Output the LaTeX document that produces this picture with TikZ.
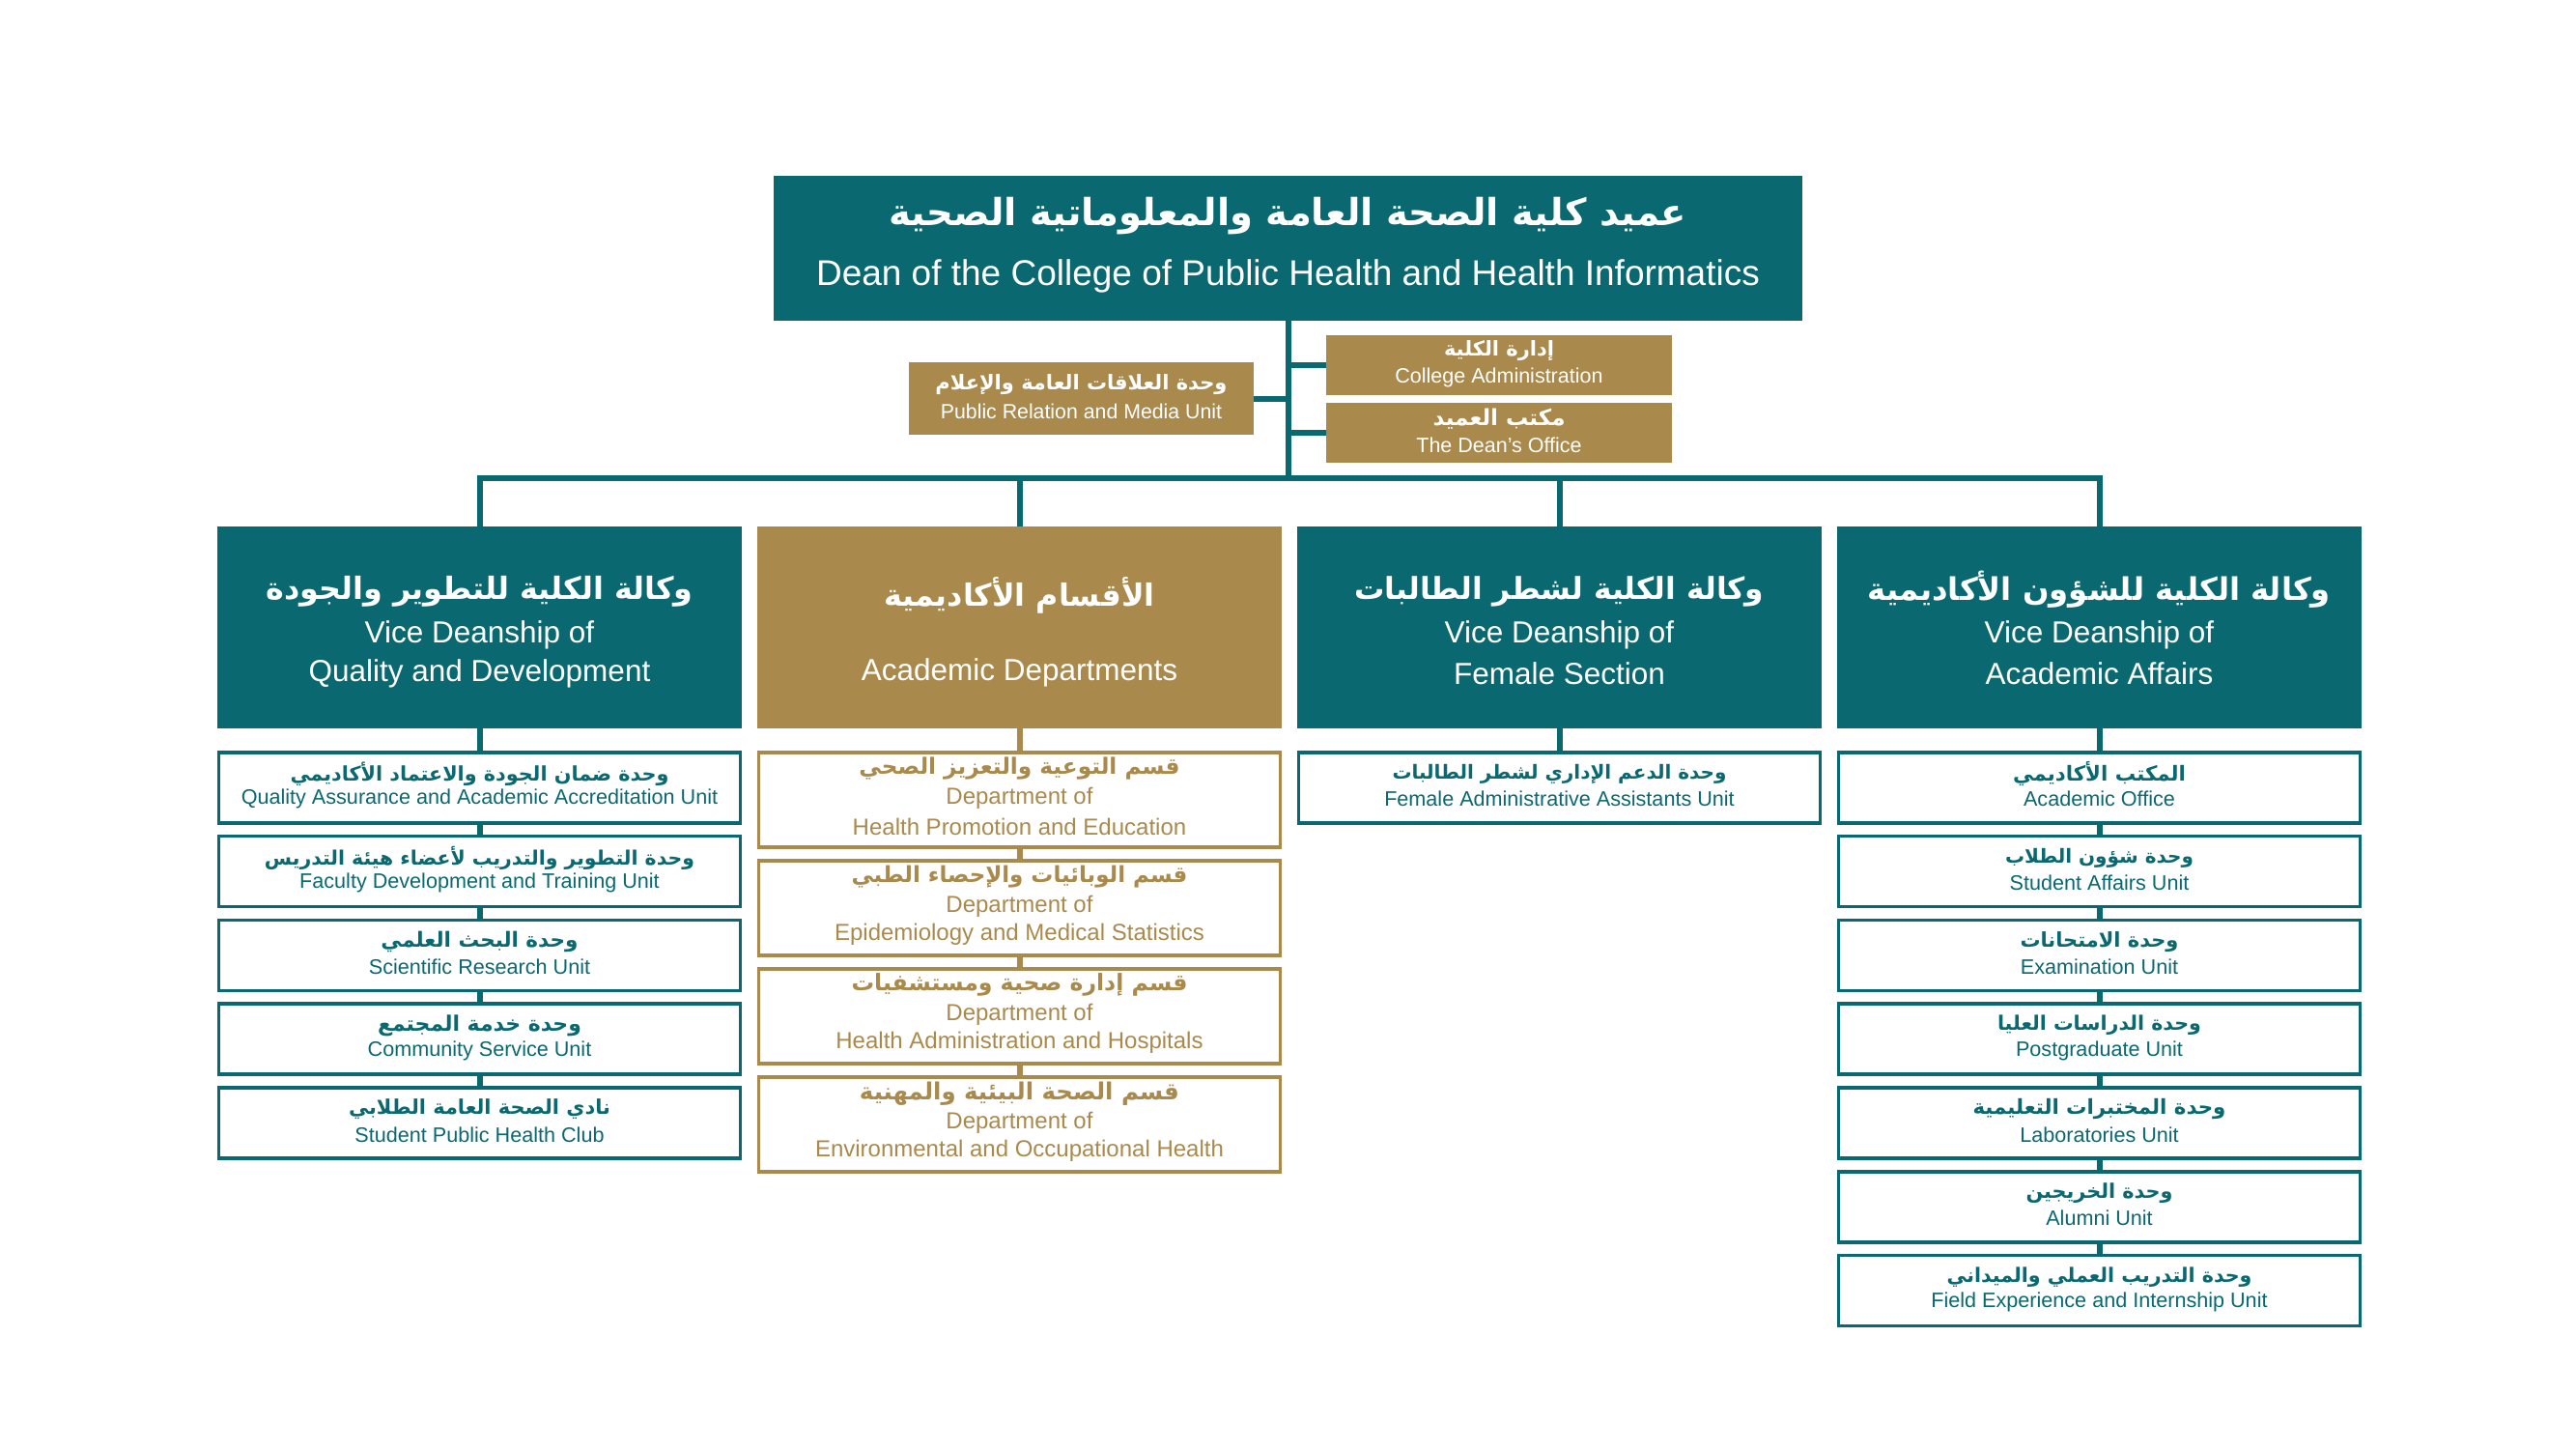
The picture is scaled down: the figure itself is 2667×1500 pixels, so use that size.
\documentclass[tikz,border=0pt]{standalone}
\usepackage{fontspec}
\usepackage{graphicx}
\setmainfont{Liberation Sans}
\newfontfamily\arabicfont[Script=Arabic]{DejaVu Sans}
\TeXXeTstate=1
\definecolor{tealc}{HTML}{0A6870}
\definecolor{goldc}{HTML}{A98A4C}
\newcommand\fsz[1]{\fontsize{#1}{#1}\selectfont}
\newcommand\ar[2]{\resizebox{#1pt}{!}{\arabicfont\bfseries #2}}
\tikzset{
  conn/.style={draw=tealc, line width=6pt},
  gconn/.style={draw=goldc, line width=6pt},
  tbox/.style={rectangle, fill=tealc, draw=none, inner sep=0pt, outer sep=0pt, anchor=north west},
  gbox/.style={rectangle, fill=goldc, draw=none, inner sep=0pt, outer sep=0pt, anchor=north west},
  tch/.style={rectangle, draw=tealc, line width=3.5pt, fill=white, inner sep=0pt, minimum width=540pt, minimum height=73pt},
  gch/.style={rectangle, draw=goldc, line width=3.5pt, fill=white, inner sep=0pt, minimum width=540pt, minimum height=98pt},
  lbl/.style={inner sep=0pt, outer sep=0pt},
}
\newcommand\tchild[6]{%
  \node[tch, anchor=north] (#1) at (#2,#3) {};
  \node[lbl, text=tealc] (#1-ar) at ([yshift=14pt]#1.center) {\ar{#4}{#5}};
  \node[lbl, text=tealc, font=\fsz{21.6}] (#1-en) at ([yshift=-12pt]#1.center) {#6};
}
\newcommand\gchild[6]{%
  \node[gch, anchor=north] (#1) at (#2,#3) {};
  \node[lbl, text=goldc] (#1-ar) at ([yshift=32pt]#1.center) {\ar{#4}{#5}};
  \node[lbl, text=goldc, font=\fsz{24}] (#1-dp) at ([yshift=1pt]#1.center) {Department of};
  \node[lbl, text=goldc, font=\fsz{24}] (#1-en) at ([yshift=-28pt]#1.center) {#6};
}
\begin{document}
\begin{tikzpicture}[x=1pt, y=-1pt]
\useasboundingbox (0,0) rectangle (2667,1500);
\fill[white] (0,0) rectangle (2667,1500);

% Dean
\node[tbox, minimum width=1065pt, minimum height=150pt] (dean) at (801,182) {};
\node[lbl, text=white] (dean-ar) at (1333.5,224) {\ar{826}{\beginR عميد كلية الصحة العامة والمعلوماتية الصحية\endR}};
\node[lbl, text=white, font=\fsz{37}] (dean-en) at (1333.5,286) {Dean of the College of Public Health and Health Informatics};

% staff boxes
\node[gbox, minimum width=358pt, minimum height=62pt] (ca) at (1373,347) {};
\node[lbl, text=white] (ca-ar) at (1552,363) {\ar{114}{\beginR إدارة الكلية\endR}};
\node[lbl, text=white, font=\fsz{21.5}] (ca-en) at (1552,391) {College Administration};

\node[gbox, minimum width=358pt, minimum height=62pt] (do) at (1373,417) {};
\node[lbl, text=white] (do-ar) at (1552,434) {\ar{137}{\beginR مكتب العميد\endR}};
\node[lbl, text=white, font=\fsz{21.5}] (do-en) at (1552,461) {The Dean’s Office};

\node[gbox, minimum width=357pt, minimum height=75pt] (pr) at (941,375) {};
\node[lbl, text=white] (pr-ar) at (1119.5,398) {\ar{302}{\beginR وحدة العلاقات العامة والإعلام\endR}};
\node[lbl, text=white, font=\fsz{21.3}] (pr-en) at (1119.5,426) {Public Relation and Media Unit};

% trunk and bus
\coordinate (busL) at (496.5,495);
\coordinate (busR) at (2173.5,495);
\draw[conn] (dean.south) -- (dean.south |- busL);
\draw[conn] (ca.west) -- (ca.west -| dean.south);
\draw[conn] (do.west) -- (do.west -| dean.south);
\draw[conn] (pr.east) -- (pr.east -| dean.south);
\draw[conn, line cap=rect] (busL) -- (busR);

% level 2
\node[tbox, minimum width=543pt, minimum height=209pt] (qd) at (225,545) {};
\node[gbox, minimum width=543pt, minimum height=209pt] (ad) at (784,545) {};
\node[tbox, minimum width=543pt, minimum height=209pt] (fe) at (1343,545) {};
\node[tbox, minimum width=543pt, minimum height=209pt] (aa) at (1902,545) {};
\draw[conn] (qd.north) -- (qd.north |- busL);
\draw[conn] (ad.north) -- (ad.north |- busL);
\draw[conn] (fe.north) -- (fe.north |- busL);
\draw[conn] (aa.north) -- (aa.north |- busL);

\node[lbl, text=white] (qd-ar) at (496.5,612) {\ar{442}{\beginR وكالة الكلية للتطوير والجودة\endR}};
\node[lbl, text=white, font=\fsz{31.5}] (qd-en1) at (496.5,657) {Vice Deanship of};
\node[lbl, text=white, font=\fsz{31.5}] (qd-en2) at (496.5,697) {Quality and Development};

\node[lbl, text=white] (ad-ar) at (1055.5,616) {\ar{280}{\beginR الأقسام الأكاديمية\endR}};
\node[lbl, text=white, font=\fsz{31.5}] (ad-en) at (1055.5,696) {Academic Departments};

\node[lbl, text=white] (fe-ar) at (1614.5,612) {\ar{424}{\beginR وكالة الكلية لشطر الطالبات\endR}};
\node[lbl, text=white, font=\fsz{31.5}] (fe-en1) at (1614.5,657) {Vice Deanship of};
\node[lbl, text=white, font=\fsz{31.5}] (fe-en2) at (1614.5,697) {Female Section};

\node[lbl, text=white] (aa-ar) at (2173.5,610) {\ar{479}{\beginR وكالة الكلية للشؤون الأكاديمية\endR}};
\node[lbl, text=white, font=\fsz{31.5}] (aa-en1) at (2173.5,657) {Vice Deanship of};
\node[lbl, text=white, font=\fsz{31.5}] (aa-en2) at (2173.5,697) {Academic Affairs};

% Quality and Development children
\tchild{qd1}{496.5}{777}{392}{\beginR وحدة ضمان الجودة والاعتماد الأكاديمي\endR}{Quality Assurance and Academic Accreditation Unit}
\tchild{qd2}{496.5}{863.8}{445}{\beginR وحدة التطوير والتدريب لأعضاء هيئة التدريس\endR}{Faculty Development and Training Unit}
\tchild{qd3}{496.5}{950.6}{204}{\beginR وحدة البحث العلمي\endR}{Scientific Research Unit}
\tchild{qd4}{496.5}{1037.4}{211}{\beginR وحدة خدمة المجتمع\endR}{Community Service Unit}
\tchild{qd5}{496.5}{1124.2}{271}{\beginR نادي الصحة العامة الطلابي\endR}{Student Public Health Club}
\draw[conn] (qd.south) -- (qd1.north);
\draw[conn] (qd1.south) -- (qd2.north);
\draw[conn] (qd2.south) -- (qd3.north);
\draw[conn] (qd3.south) -- (qd4.north);
\draw[conn] (qd4.south) -- (qd5.north);

% Academic Departments children
\gchild{ad1}{1055.5}{777}{332}{\beginR قسم التوعية والتعزيز الصحي\endR}{Health Promotion and Education}
\gchild{ad2}{1055.5}{889}{348}{\beginR قسم الوبائيات والإحصاء الطبي\endR}{Epidemiology and Medical Statistics}
\gchild{ad3}{1055.5}{1001}{348}{\beginR قسم إدارة صحية ومستشفيات\endR}{Health Administration and Hospitals}
\gchild{ad4}{1055.5}{1113}{331}{\beginR قسم الصحة البيئية والمهنية\endR}{Environmental and Occupational Health}
\draw[gconn] (ad.south) -- (ad1.north);
\draw[gconn] (ad1.south) -- (ad2.north);
\draw[gconn] (ad2.south) -- (ad3.north);
\draw[gconn] (ad3.south) -- (ad4.north);

% Female Section child
\tchild{fe1}{1614.5}{777}{346}{\beginR وحدة الدعم الإداري لشطر الطالبات\endR}{Female Administrative Assistants Unit}
\draw[conn] (fe.south) -- (fe1.north);

% Academic Affairs children
\tchild{aa1}{2173.5}{777}{179}{\beginR المكتب الأكاديمي\endR}{Academic Office}
\tchild{aa2}{2173.5}{863.8}{195}{\beginR وحدة شؤون الطلاب\endR}{Student Affairs Unit}
\tchild{aa3}{2173.5}{950.6}{164}{\beginR وحدة الامتحانات\endR}{Examination Unit}
\tchild{aa4}{2173.5}{1037.4}{211}{\beginR وحدة الدراسات العليا\endR}{Postgraduate Unit}
\tchild{aa5}{2173.5}{1124.2}{262}{\beginR وحدة المختبرات التعليمية\endR}{Laboratories Unit}
\tchild{aa6}{2173.5}{1211}{152}{\beginR وحدة الخريجين\endR}{Alumni Unit}
\tchild{aa7}{2173.5}{1297.8}{316}{\beginR وحدة التدريب العملي والميداني\endR}{Field Experience and Internship Unit}
\draw[conn] (aa.south) -- (aa1.north);
\draw[conn] (aa1.south) -- (aa2.north);
\draw[conn] (aa2.south) -- (aa3.north);
\draw[conn] (aa3.south) -- (aa4.north);
\draw[conn] (aa4.south) -- (aa5.north);
\draw[conn] (aa5.south) -- (aa6.north);
\draw[conn] (aa6.south) -- (aa7.north);
\end{tikzpicture}
\end{document}
